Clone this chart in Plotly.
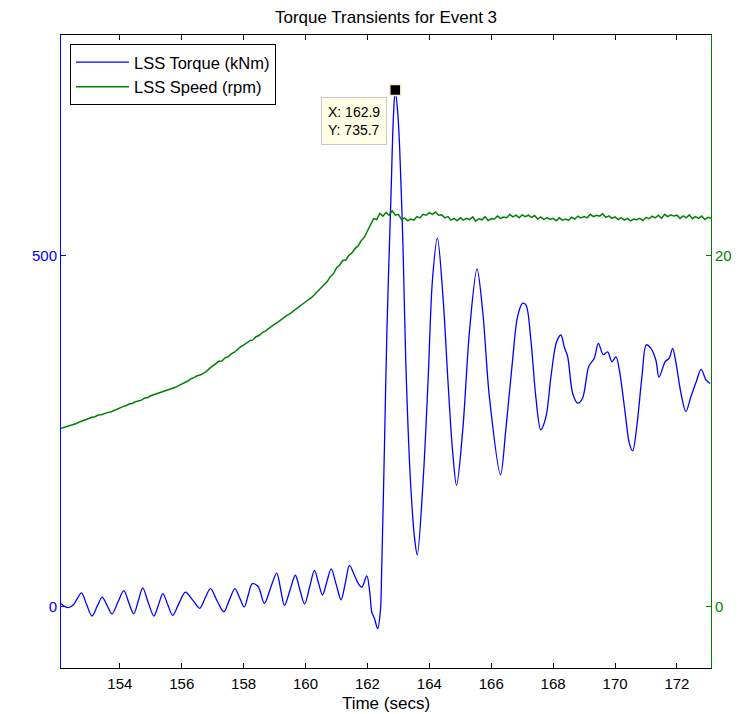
import plotly.graph_objects as go

# ---------------- data ----------------
torque_time = [
    152.10, 152.17, 152.34, 152.50, 152.63, 152.76, 152.93, 153.10, 153.27, 153.43,
    153.59, 153.75, 153.94, 154.13, 154.29, 154.45, 154.60, 154.74, 154.92, 155.10,
    155.25, 155.39, 155.55, 155.71, 155.92, 156.12, 156.35, 156.58, 156.76, 156.93,
    157.15, 157.36, 157.54, 157.72, 157.87, 158.02, 158.15, 158.28, 158.47, 158.67,
    158.87, 159.07, 159.20, 159.32, 159.50, 159.67, 159.82, 159.97, 160.13, 160.29,
    160.42, 160.55, 160.69, 160.83, 160.99, 161.15, 161.29, 161.42, 161.57, 161.71,
    161.82, 161.98, 162.08, 162.14, 162.23, 162.33, 162.42,
    162.46, 162.55, 162.63, 162.76, 162.84, 162.90, 162.98, 163.04, 163.15, 163.24,
    163.39, 163.53, 163.61, 163.80, 163.96, 164.10, 164.26, 164.44, 164.60, 164.74,
    164.88, 165.08, 165.30, 165.54, 165.73, 165.94, 166.30, 166.47, 166.68, 166.85,
    167.01, 167.12, 167.28, 167.44, 167.60, 167.77, 167.93, 168.11, 168.25, 168.36,
    168.47, 168.63, 168.79, 168.95, 169.15, 169.33, 169.46, 169.62, 169.76, 169.90,
    170.03, 170.14, 170.33, 170.46, 170.57, 170.70, 170.87, 171.01, 171.16, 171.32,
    171.42, 171.62, 171.75, 171.86, 171.97, 172.13, 172.29, 172.45, 172.62, 172.78,
    172.94, 173.07,
]
torque_knm = [
    5, 2, -1, 3, 12, 20, 3, -13, 1, 14,
    2, -10, 7, 23, 6, -10, 9, 27, 6, -13,
    3, 19, 3, -12, 6, 21, 10, -2, 13, 26,
    8, -7, 10, 26, 13, 0, 17, 33, 29, 5,
    27, 48, 24, 2, 24, 45, 24, 4, 28, 52,
    34, 17, 36, 54, 32, 10, 35, 59, 46, 33,
    28, 44, 19, -7, -17, -31, -5,
    52, 228, 394, 584, 698, 735.7, 703, 655, 512, 347,
    180, 95, 74, 180, 323, 465, 525, 442, 323, 228,
    173, 252, 394, 481, 418, 299, 188, 252, 347, 413,
    432, 430, 380, 299, 252, 271, 328, 377, 387, 370,
    356, 304, 290, 297, 342, 354, 375, 359, 363, 349,
    356, 337, 275, 233, 222, 256, 328, 373, 368, 351,
    327, 349, 354, 368, 347, 304, 278, 299, 320, 338,
    323, 318,
]

speed_t0 = 152.1      # first sample time of the speed record (s)
speed_dt = 0.1        # sample spacing of the speed record (s)
speed_rpm = [
    10.17, 10.22, 10.29, 10.33, 10.41, 10.44, 10.53, 10.60, 10.64, 10.74,
    10.80, 10.83, 10.92, 10.94, 11.01, 11.06, 11.10, 11.18, 11.24, 11.31,
    11.40, 11.45, 11.55, 11.58, 11.68, 11.72, 11.77, 11.88, 11.92, 12.02,
    12.08, 12.14, 12.22, 12.27, 12.30, 12.38, 12.44, 12.50, 12.60, 12.68,
    12.80, 12.86, 12.99, 13.05, 13.16, 13.20, 13.30, 13.40, 13.58, 13.70,
    13.82, 13.98, 14.00, 14.18, 14.24, 14.40, 14.50, 14.66, 14.80, 14.90,
    15.02, 15.16, 15.20, 15.38, 15.45, 15.62, 15.70, 15.85, 15.96, 16.10,
    16.20, 16.34, 16.44, 16.60, 16.70, 16.84, 16.95, 17.10, 17.24, 17.36,
    17.50, 17.62, 17.80, 18.02, 18.20, 18.40, 18.52, 18.80, 18.96, 19.30,
    19.45, 19.72, 19.75, 20.02, 20.15, 20.40, 20.55, 20.85, 21.05, 21.40,
    21.75, 22.10, 22.05, 22.40, 22.25, 22.45, 22.30, 22.55, 22.30, 22.35,
    22.05, 22.15, 21.98, 22.08, 22.02, 22.22, 22.15, 22.35, 22.30, 22.45,
    22.35, 22.48, 22.30, 22.32, 22.15, 22.22, 22.02, 22.12, 21.98, 22.15,
    22.02, 22.12, 22.05, 22.20, 21.96, 22.10, 22.04, 22.22, 22.00, 22.10,
    22.08, 22.25, 22.12, 22.20, 22.16, 22.35, 22.20, 22.30, 22.15, 22.32,
    22.22, 22.30, 22.18, 22.28, 22.08, 22.20, 22.05, 22.16, 22.06, 22.12,
    21.98, 22.15, 22.02, 22.08, 22.00, 22.18, 22.08, 22.25, 22.15, 22.22,
    22.15, 22.35, 22.22, 22.30, 22.25, 22.38, 22.18, 22.26, 22.12, 22.20,
    22.05, 22.16, 22.02, 22.12, 21.98, 22.08, 22.04, 22.12, 22.00, 22.18,
    22.10, 22.24, 22.15, 22.30, 22.12, 22.35, 22.22, 22.32, 22.25, 22.30,
    22.12, 22.26, 22.15, 22.32, 22.10, 22.22, 22.12, 22.25, 22.05, 22.18,
    22.12,
]
speed_time = [round(speed_t0 + i * speed_dt, 2) for i in range(len(speed_rpm))]

datatip_x = [162.9]
datatip_y = [735.7]

x_ticks = [154, 156, 158, 160, 162, 164, 166, 168, 170, 172]
torque_ticks = [0, 500]
speed_ticks = [0, 20]

# ---------------- figure ----------------
FONT = "Liberation Sans, Arial, Helvetica, sans-serif"
BLUE = "#0000FF"
GREEN = "#008000"

fig = go.Figure()
fig.add_trace(go.Scatter(
    x=torque_time, y=torque_knm, mode="lines", name="LSS Torque (kNm)",
    line=dict(color=BLUE, width=1.3, shape="spline", smoothing=0.9),
    yaxis="y",
))
fig.add_trace(go.Scatter(
    x=speed_time, y=speed_rpm, mode="lines", name="LSS Speed (rpm)",
    line=dict(color=GREEN, width=1.5),
    yaxis="y2",
))
fig.add_trace(go.Scatter(
    x=datatip_x, y=datatip_y, mode="markers", showlegend=False,
    marker=dict(symbol="square", size=11, color="black",
                line=dict(color="#F5F0C8", width=1.5)),
    yaxis="y", hoverinfo="skip",
))

fig.add_annotation(
    x=datatip_x[0], y=datatip_y[0], xref="x", yref="y",
    text=f"X: {datatip_x[0]}<br>Y: {datatip_y[0]}",
    showarrow=False, xanchor="right", yanchor="top", align="left",
    xshift=-8, yshift=-7,
    bgcolor="#FFFFE6", bordercolor="#C8C8C8", borderwidth=1, borderpad=6,
    font=dict(family=FONT, size=14, color="black"),
)

fig.update_layout(
    width=746, height=714,
    margin=dict(l=61, r=35, t=35, b=46, autoexpand=False),
    paper_bgcolor="white", plot_bgcolor="white",
    font=dict(family=FONT, size=15, color="black"),
    title=dict(text="Torque Transients for Event 3", x=0.5, xref="paper",
               y=1 - 17 / 714, yref="container", yanchor="middle", xanchor="center",
               font=dict(family=FONT, size=17, color="black")),
    showlegend=True,
    legend=dict(x=0.0138, y=0.9858, xanchor="left", yanchor="top",
                bgcolor="white", bordercolor="black", borderwidth=1,
                font=dict(family=FONT, size=16.5, color="black"),
                itemwidth=53, tracegroupgap=0),
    xaxis=dict(
        range=[152.1, 173.1], tickvals=x_ticks, ticks="inside", ticklen=5,
        tickcolor="black", showline=True, linecolor="black", linewidth=1,
        mirror="ticks", showgrid=False, zeroline=False, automargin=False,
        tickfont=dict(family=FONT, size=15, color="black"),
        ticklabelstandoff=2,
        title=dict(text="Time (secs)", font=dict(family=FONT, size=17, color="black"),
                   standoff=6),
    ),
    yaxis=dict(
        range=[-87, 814], tickvals=torque_ticks, ticks="inside", ticklen=5,
        tickcolor=BLUE, showline=True, linecolor=BLUE, linewidth=1,
        showgrid=False, zeroline=False, automargin=False,
        tickfont=dict(family=FONT, size=15, color=BLUE),
    ),
    yaxis2=dict(
        range=[-3.48, 32.56], tickvals=speed_ticks, ticks="inside", ticklen=5,
        tickcolor=GREEN, showline=True, linecolor=GREEN, linewidth=1,
        showgrid=False, zeroline=False, overlaying="y", side="right", automargin=False,
        tickfont=dict(family=FONT, size=15, color=GREEN),
    ),
)

fig.write_html("out.html")
